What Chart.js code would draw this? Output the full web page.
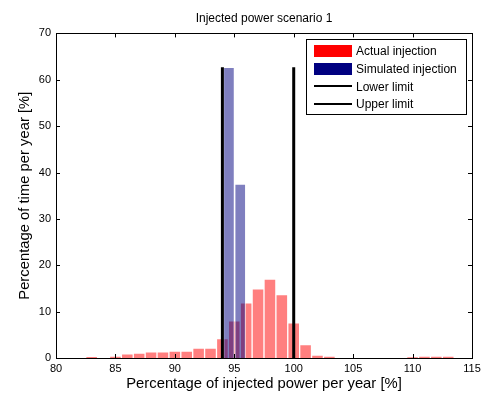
<!DOCTYPE html>
<html>
<head>
<meta charset="utf-8">
<script src="https://cdn.jsdelivr.net/npm/chart.js@4"></script>
<style>
  html, body { margin: 0; padding: 0; background: #fff; }
  canvas { display: block; }
</style>
</head>
<body>
<canvas id="histChart" width="481" height="396"></canvas>
<script>
// Histogram bins (bin centre, % of time per year)
const actualCenters = [83, 85, 86, 87, 88, 89, 90, 91, 92, 93, 94, 95, 96, 97, 98, 99, 100, 101, 102, 103, 110, 111, 112, 113];
const actualPct = [0.25, 0.4, 0.9, 1.05, 1.35, 1.35, 1.5, 1.5, 2.15, 2.15, 4.2, 8.0, 11.9, 14.9, 17.0, 13.7, 7.6, 2.9, 0.65, 0.35, 0.2, 0.4, 0.4, 0.4];

const simCenters = [94.55, 95.5];
const simPct = [62.7, 37.5];

const lowerLimit = 94;
const upperLimit = 100;

const xTicks = [80, 85, 90, 95, 100, 105, 110, 115];
const yTicks = [0, 10, 20, 30, 40, 50, 60, 70];

const FONT = "'Liberation Sans', Arial, Helvetica, sans-serif";
const limitTop = Math.max(...simPct);

// MATLAB style box with inward ticks + legend drawn inside the axes
const matlabAxes = {
  id: 'matlabAxes',
  afterDatasetsDraw(chart) {
    const { ctx, chartArea: a, scales: { x, y } } = chart;
    ctx.save();
    ctx.strokeStyle = '#000';
    ctx.lineWidth = 1;

    // ticks pointing inwards, top and bottom / left and right
    ctx.beginPath();
    xTicks.forEach(v => {
      const px = Math.round(x.getPixelForValue(v)) + 0.5;
      ctx.moveTo(px, a.bottom); ctx.lineTo(px, a.bottom - 4);
      ctx.moveTo(px, a.top); ctx.lineTo(px, a.top + 4);
    });
    yTicks.forEach(v => {
      const py = Math.round(y.getPixelForValue(v)) + 0.5;
      ctx.moveTo(a.left, py); ctx.lineTo(a.left + 4, py);
      ctx.moveTo(a.right, py); ctx.lineTo(a.right - 4, py);
    });
    ctx.stroke();
    ctx.strokeRect(Math.round(a.left) + 0.5, Math.round(a.top) + 0.5,
      Math.round(a.right - a.left), Math.round(a.bottom - a.top));

    // legend
    ctx.font = '12px ' + FONT;
    const sets = chart.data.datasets;
    const maxW = Math.max(...sets.map(d => ctx.measureText(d.label).width));
    const w = Math.round(50 + maxW + 9);
    const h = 75;
    const right = Math.round(a.right) - 6;
    const left = right - w;
    const top = Math.round(a.top) + 6;
    ctx.fillStyle = '#fff';
    ctx.fillRect(left, top, w, h);
    ctx.strokeRect(left + 0.5, top + 0.5, w, h);
    sets.forEach((d, i) => {
      const cy = top + 12 + i * 17.7;
      if (d.type === 'line') {
        ctx.fillStyle = '#000';
        ctx.fillRect(left + 8, Math.round(cy) - 1, 38, 2);
      } else {
        ctx.fillStyle = d.legendColor;
        ctx.fillRect(left + 8, Math.round(cy - 6), 38, 12);
      }
      ctx.fillStyle = '#000';
      ctx.textBaseline = 'middle';
      ctx.textAlign = 'left';
      ctx.fillText(d.label, left + 50, cy + 1);
    });
    ctx.restore();
  }
};

const ctx = document.getElementById('histChart').getContext('2d');
new Chart(ctx, {
  type: 'bar',
  data: {
    datasets: [{
      type: 'bar',
      label: 'Actual injection',
      data: actualCenters.map((c, i) => ({ x: c, y: actualPct[i] })),
      backgroundColor: 'rgba(255, 0, 0, 0.5)',
      borderColor: 'rgba(255, 255, 255, 0.6)',
      borderWidth: 1,
      borderSkipped: 'bottom',
      barThickness: 11.9, // one bin width in px
      grouped: false,
      order: 4,
      legendColor: '#ff0000'
    }, {
      type: 'bar',
      label: 'Simulated injection',
      data: simCenters.map((c, i) => ({ x: c, y: simPct[i] })),
      backgroundColor: 'rgba(0, 0, 128, 0.5)',
      borderColor: 'rgba(255, 255, 255, 0.6)',
      borderWidth: 1,
      borderSkipped: 'bottom',
      barThickness: 11,
      grouped: false,
      order: 3,
      legendColor: '#000080'
    }, {
      type: 'line',
      label: 'Lower limit',
      data: [{ x: lowerLimit, y: 0 }, { x: lowerLimit, y: limitTop }],
      borderColor: '#000',
      borderWidth: 3,
      pointRadius: 0,
      order: 2
    }, {
      type: 'line',
      label: 'Upper limit',
      data: [{ x: upperLimit, y: 0 }, { x: upperLimit, y: limitTop }],
      borderColor: '#000',
      borderWidth: 3,
      pointRadius: 0,
      order: 1
    }]
  },
  options: {
    responsive: false,
    animation: false,
    layout: { padding: { left: 0, right: 9, top: 0, bottom: 0 } },
    plugins: {
      legend: { display: false },
      tooltip: { enabled: false },
      title: {
        display: true,
        fullSize: false, // centre over the plot area, like MATLAB
        text: 'Injected power scenario 1',
        color: '#000',
        font: { family: FONT, size: 12, weight: 'normal' },
        padding: { top: 11, bottom: 8 }
      }
    },
    scales: {
      x: {
        type: 'linear',
        min: 80,
        max: 115,
        offset: false,
        grid: { display: false, drawTicks: false },
        border: { display: false },
        ticks: { color: '#000', font: { family: FONT, size: 11 }, padding: 4, maxRotation: 0 },
        afterBuildTicks: s => { s.ticks = xTicks.map(v => ({ value: v })); },
        afterFit: s => { s.height = 38; s.paddingLeft = 0; s.paddingRight = 0; },
        title: {
          display: true,
          text: 'Percentage of injected power per year [%]',
          color: '#000',
          font: { family: FONT, size: 14.8 },
          padding: { top: 0, bottom: 3 }
        }
      },
      y: {
        min: 0,
        max: 70,
        grid: { display: false, drawTicks: false },
        border: { display: false },
        ticks: { color: '#000', font: { family: FONT, size: 11 }, padding: 5 },
        afterBuildTicks: s => { s.ticks = yTicks.map(v => ({ value: v })); },
        afterFit: s => { s.width = 56; s.paddingTop = 0; s.paddingBottom = 0; },
        title: {
          display: true,
          text: 'Percentage of time per year [%]',
          color: '#000',
          font: { family: FONT, size: 14.8 },
          padding: { top: 16, bottom: 0 }
        }
      }
    }
  },
  plugins: [matlabAxes]
});
</script>
</body>
</html>
